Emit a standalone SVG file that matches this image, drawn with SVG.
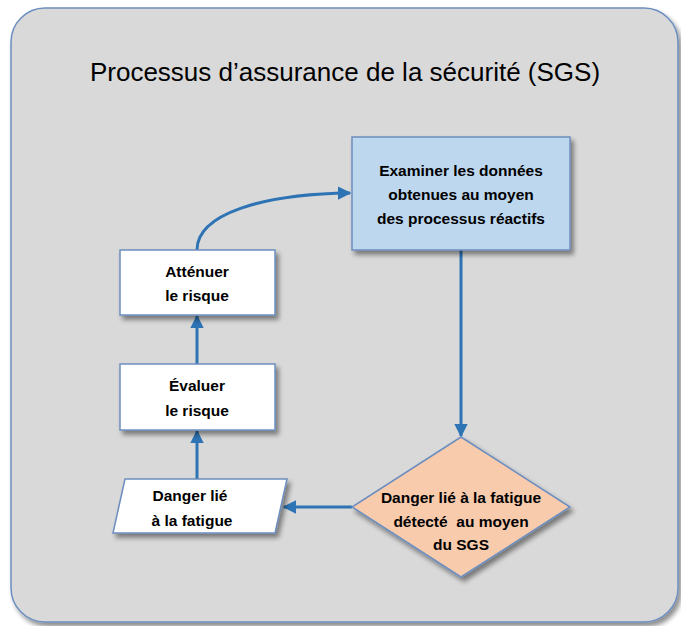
<svg xmlns="http://www.w3.org/2000/svg" width="681" height="626" viewBox="0 0 681 626">
  <defs>
    <filter id="shadow" x="-10%" y="-10%" width="130%" height="130%">
      <feGaussianBlur in="SourceAlpha" stdDeviation="2.5"/>
      <feOffset dx="3" dy="4" result="b"/>
      <feComponentTransfer><feFuncA type="linear" slope="0.45"/></feComponentTransfer>
      <feMerge><feMergeNode/><feMergeNode in="SourceGraphic"/></feMerge>
    </filter>
    <marker id="arrow" viewBox="0 0 10 10" refX="9" refY="5" markerWidth="4.5" markerHeight="4.5" orient="auto" markerUnits="strokeWidth">
      <path d="M0,0 L10,5 L0,10 z" fill="#2e74b5"/>
    </marker>
    <style>
      .frame { fill: #d9d9d9; stroke: #6c8ebf; stroke-width: 1.5; }
      .node { stroke: #6c8ebf; stroke-width: 1.5; }
      .white { fill: #ffffff; }
      .blue { fill: #bdd7ee; }
      .peach { fill: #f8cbad; }
      .label { font-family: "Liberation Sans", Arial, sans-serif; font-weight: bold; font-size: 15.5px; fill: #000000; text-anchor: middle; white-space: pre; }
      .title { font-family: "Liberation Sans", Arial, sans-serif; font-size: 26px; fill: #000000; text-anchor: middle; }
      .link { fill: none; stroke: #2e74b5; stroke-width: 3; marker-end: url(#arrow); }
    </style>
  </defs>

  <!-- outer panel -->
  <g id="panel">
    <rect class="frame" x="11" y="8" width="667" height="614" rx="34" ry="34" filter="url(#shadow)"/>
    <text class="title" x="345" y="81">Processus d’assurance de la sécurité (SGS)</text>
  </g>

  <!-- connectors -->
  <g id="connectors">
    <path class="link" d="M461,250 L461,436"/>
    <path class="link" d="M352,507 L284,507"/>
    <path class="link" d="M197,479 L197,431"/>
    <path class="link" d="M197,364 L197,316"/>
    <path class="link" d="M197,250 C197,214 262,194 350,193"/>
  </g>

  <g id="examiner">
    <rect class="node blue" x="352" y="137" width="218" height="113" filter="url(#shadow)"/>
    <text class="label" x="461" y="176">Examiner les données</text>
    <text class="label" x="461" y="200">obtenues au moyen</text>
    <text class="label" x="461" y="224">des processus réactifs</text>
  </g>

  <g id="attenuer">
    <rect class="node white" x="120" y="250" width="155" height="65" filter="url(#shadow)"/>
    <text class="label" x="197" y="277">Atténuer</text>
    <text class="label" x="197" y="301">le risque</text>
  </g>

  <g id="evaluer">
    <rect class="node white" x="120" y="364" width="155" height="66" filter="url(#shadow)"/>
    <text class="label" x="197" y="391">Évaluer</text>
    <text class="label" x="197" y="416">le risque</text>
  </g>

  <g id="danger">
    <polygon class="node white" points="125,479 287,479 275,533 113,533" filter="url(#shadow)"/>
    <text class="label" x="190" y="501">Danger lié</text>
    <text class="label" x="192" y="526">à la fatigue</text>
  </g>

  <g id="detecte">
    <polygon class="node peach" points="461,437 570,507 461,577 352,507" filter="url(#shadow)"/>
    <text class="label" x="461" y="503">Danger lié à la fatigue</text>
    <text class="label" x="461" y="527">détecté  au moyen</text>
    <text class="label" x="461" y="550">du SGS</text>
  </g>
</svg>
